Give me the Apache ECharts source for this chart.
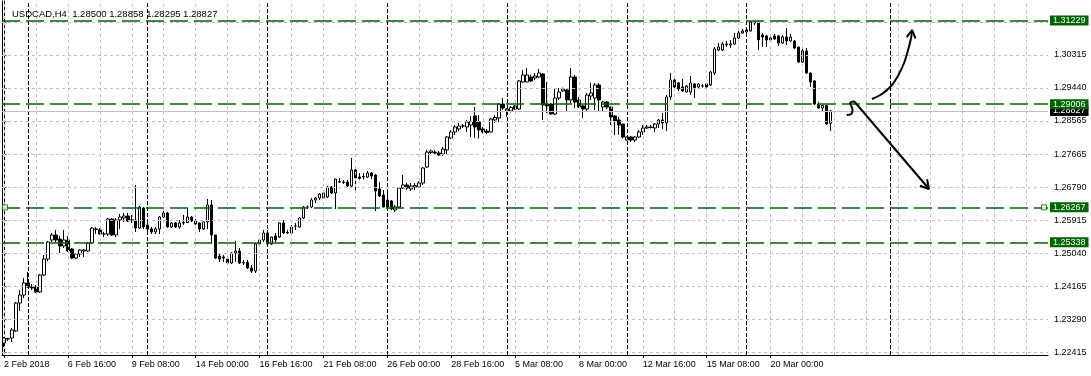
<!DOCTYPE html>
<html><head><meta charset="utf-8">
<script src="https://cdn.jsdelivr.net/npm/echarts@6/dist/echarts.min.js"></script>
<style>html,body{margin:0;padding:0;background:#fff}#c{width:1091px;height:376px}</style>
</head><body><div id="c"></div>
<script>
const openP = [1.22663,1.22769,1.22795,1.22981,1.23725,1.23938,1.24257,1.24150,1.24150,1.24018,1.24469,1.24894,1.25399,1.25532,1.25426,1.25240,1.25399,1.25160,1.24921,1.25027,
1.25107,1.25107,1.25320,1.25692,1.25665,1.25559,1.25559,1.25957,1.25532,1.25931,1.25984,1.26037,1.25931,1.25931,1.25718,1.26249,1.25798,1.25692,1.25612,1.25692,
1.26010,1.26117,1.25745,1.25851,1.25745,1.25851,1.25864,1.26010,1.25904,1.25851,1.25692,1.25878,1.26329,1.25532,1.24974,1.24948,1.24894,1.24788,1.25054,1.25107,
1.24788,1.24802,1.24655,1.24576,1.25293,1.25399,1.25585,1.25293,1.25506,1.25479,1.25851,1.25585,1.25585,1.25771,1.25745,1.25984,1.26276,1.26276,1.26462,1.26515,
1.26515,1.26542,1.26807,1.26648,1.26940,1.26940,1.26940,1.26834,1.27259,1.27073,1.27073,1.27073,1.27179,1.27126,1.26754,1.26595,1.26462,1.26435,1.26196,1.26276,
1.26781,1.26861,1.26754,1.26807,1.26807,1.26914,1.27339,1.27724,1.27737,1.27711,1.27684,1.27791,1.28109,1.28269,1.28349,1.28428,1.28402,1.28455,1.28694,1.28535,
1.28349,1.28295,1.28269,1.28588,1.28641,1.29013,1.28827,1.28827,1.28960,1.28880,1.29597,1.29597,1.29730,1.29704,1.29730,1.29810,1.29013,1.29013,1.28747,1.29172,
1.29358,1.29385,1.29119,1.29730,1.29119,1.28960,1.28880,1.29225,1.29172,1.29518,1.28933,1.29066,1.28933,1.28694,1.28588,1.28481,1.28056,1.28136,1.28056,1.28136,
1.28269,1.28375,1.28402,1.28375,1.28481,1.28588,1.28508,1.29199,1.29650,1.29571,1.29464,1.29332,1.29332,1.29544,1.29464,1.29491,1.29544,1.29518,1.29836,1.30448,
1.30448,1.30607,1.30580,1.30607,1.30766,1.30899,1.30926,1.30952,1.31165,1.31165,1.30846,1.30820,1.30713,1.30820,1.30820,1.30634,1.30793,1.30687,1.30687,1.30527,
1.30129,1.30421,1.29836,1.29624,1.29013,1.28906,1.28973,1.28500];
const closeP = [1.22795,1.22782,1.23008,1.23725,1.23938,1.24257,1.24150,1.24124,1.24018,1.24469,1.24894,1.25346,1.25532,1.25399,1.25240,1.25399,1.25107,1.24921,1.25027,1.25134,
1.25134,1.25320,1.25718,1.25678,1.25559,1.25559,1.25957,1.25532,1.25931,1.26010,1.26037,1.25904,1.25931,1.25718,1.26276,1.25745,1.25692,1.25612,1.25692,1.26010,
1.26117,1.25745,1.25851,1.25745,1.25851,1.25864,1.26010,1.25904,1.25824,1.25692,1.25878,1.26329,1.25532,1.24921,1.24894,1.24921,1.24788,1.25054,1.25107,1.24788,
1.24802,1.24655,1.24576,1.25293,1.25399,1.25585,1.25293,1.25479,1.25399,1.25851,1.25585,1.25599,1.25745,1.25771,1.25984,1.26276,1.26276,1.26462,1.26515,1.26621,
1.26648,1.26807,1.26648,1.27020,1.26953,1.26927,1.26834,1.27259,1.27047,1.27033,1.27086,1.27179,1.27100,1.26701,1.26568,1.26276,1.26276,1.26223,1.26276,1.26781,
1.26861,1.26781,1.26834,1.26847,1.26914,1.27312,1.27737,1.27764,1.27711,1.27658,1.27817,1.28136,1.28269,1.28402,1.28428,1.28428,1.28535,1.28548,1.28402,1.28322,
1.28269,1.28256,1.28614,1.28654,1.29013,1.28906,1.28880,1.28920,1.28880,1.29624,1.29783,1.29783,1.29624,1.29757,1.29836,1.28986,1.28960,1.28747,1.29172,1.29332,
1.29411,1.29119,1.29730,1.29066,1.28933,1.28880,1.29252,1.29305,1.29518,1.29119,1.29066,1.28933,1.28667,1.28561,1.28455,1.28136,1.28136,1.28056,1.28136,1.28269,
1.28375,1.28402,1.28389,1.28481,1.28588,1.28508,1.29199,1.29650,1.29464,1.29411,1.29358,1.29491,1.29571,1.29438,1.29544,1.29491,1.29464,1.29863,1.30474,1.30527,
1.30607,1.30594,1.30607,1.30766,1.30899,1.30952,1.30979,1.31192,1.31192,1.30713,1.30793,1.30713,1.30766,1.30740,1.30634,1.30793,1.30687,1.30793,1.30501,1.30129,
1.30421,1.29836,1.29597,1.29013,1.28906,1.28973,1.28481,1.28827];
const lowP = [1.22556,1.22716,1.22689,1.22955,1.23513,1.23858,1.24124,1.24071,1.23991,1.23991,1.24443,1.24841,1.25346,1.25346,1.25054,1.25187,1.25080,1.24894,1.24894,1.24948,
1.24948,1.25080,1.25293,1.25559,1.25545,1.25479,1.25506,1.25506,1.25479,1.25692,1.25878,1.25878,1.25851,1.25612,1.25692,1.25692,1.25612,1.25559,1.25559,1.25559,
1.25984,1.25731,1.25718,1.25718,1.25692,1.25798,1.25851,1.25878,1.25798,1.25612,1.25665,1.25692,1.25293,1.24894,1.24815,1.24815,1.24735,1.24762,1.24815,1.24762,
1.24735,1.24629,1.24522,1.24522,1.25213,1.25346,1.25266,1.25266,1.25346,1.25452,1.25559,1.25559,1.25559,1.25665,1.25731,1.25957,1.26223,1.26249,1.26382,1.26462,
1.26502,1.26515,1.26621,1.26223,1.26914,1.26887,1.26807,1.26781,1.26728,1.27007,1.27007,1.27047,1.27020,1.26170,1.26542,1.26263,1.26249,1.26196,1.26143,1.26249,
1.26754,1.26728,1.26701,1.26728,1.26781,1.26861,1.27312,1.27684,1.27684,1.27631,1.27631,1.27658,1.28083,1.28189,1.28295,1.28375,1.28269,1.28136,1.28109,1.28096,
1.28229,1.28216,1.28256,1.28508,1.28535,1.28853,1.28667,1.28787,1.28853,1.28853,1.29584,1.29584,1.29597,1.29650,1.29704,1.28588,1.28774,1.28720,1.28720,1.29119,
1.29332,1.28800,1.29039,1.28906,1.28906,1.28641,1.28800,1.29119,1.28853,1.28827,1.28827,1.28880,1.28455,1.28189,1.28189,1.28096,1.28030,1.28003,1.28003,1.28109,
1.28189,1.28349,1.28362,1.28269,1.28375,1.28349,1.28295,1.29119,1.29438,1.29358,1.29332,1.29319,1.29252,1.29172,1.29438,1.29451,1.29451,1.29491,1.29783,1.30421,
1.30421,1.30527,1.30501,1.30580,1.30740,1.30873,1.30899,1.30939,1.31112,1.30448,1.30527,1.30527,1.30660,1.30713,1.30554,1.30607,1.30580,1.30660,1.30474,1.30102,
1.30102,1.29810,1.29464,1.28986,1.28880,1.28800,1.28455,1.28295];
const highP = [1.22822,1.22803,1.23061,1.23752,1.24071,1.24390,1.24549,1.24230,1.24204,1.24496,1.25001,1.25373,1.25585,1.25665,1.25506,1.25665,1.25506,1.25187,1.25054,1.25160,
1.25160,1.25346,1.25745,1.25745,1.25718,1.25612,1.25984,1.25984,1.25984,1.26090,1.26117,1.26117,1.26063,1.26861,1.26303,1.26276,1.25878,1.25745,1.25745,1.26037,
1.26249,1.26143,1.25878,1.25878,1.25931,1.26063,1.26249,1.26037,1.25957,1.25864,1.25891,1.26489,1.26462,1.25532,1.25027,1.25001,1.24948,1.25080,1.25373,1.25187,
1.24868,1.24868,1.24735,1.25320,1.25452,1.25665,1.25665,1.25492,1.25585,1.25864,1.25931,1.25665,1.25798,1.25851,1.26010,1.26303,1.26316,1.26515,1.26542,1.26648,
1.26675,1.26834,1.26834,1.27033,1.27047,1.26993,1.26993,1.27578,1.27339,1.27179,1.27179,1.27233,1.27206,1.27153,1.26940,1.26728,1.26648,1.26462,1.26329,1.26807,
1.27126,1.26914,1.26914,1.26914,1.26967,1.27339,1.27791,1.27804,1.27791,1.27764,1.27870,1.28163,1.28322,1.28455,1.28508,1.28481,1.28588,1.28694,1.28933,1.28720,
1.28402,1.28349,1.28641,1.28720,1.29039,1.29172,1.28906,1.28960,1.28986,1.29650,1.29916,1.29969,1.29783,1.29836,1.29943,1.29836,1.29597,1.29039,1.29438,1.29438,
1.29451,1.29438,1.29969,1.29783,1.29199,1.28986,1.29305,1.29571,1.29571,1.29571,1.29092,1.29092,1.28947,1.28720,1.28667,1.28481,1.28149,1.28163,1.28163,1.28322,
1.28455,1.28455,1.28455,1.28508,1.28614,1.28774,1.29252,1.29836,1.29677,1.29597,1.29677,1.29518,1.29757,1.29571,1.29571,1.29544,1.29597,1.29890,1.30527,1.30634,
1.30660,1.30687,1.30713,1.30899,1.31006,1.31006,1.31032,1.31205,1.31218,1.31205,1.30899,1.30846,1.30820,1.30873,1.30846,1.30846,1.31032,1.30873,1.30713,1.30527,
1.30501,1.30501,1.29850,1.29650,1.29066,1.28986,1.28986,1.28858];

const xTickBars = [0,16,32,48,64,80,96,112,128,144,160,176,192];
const xTickLabels = ['2 Feb 2018','6 Feb 16:00','9 Feb 08:00','14 Feb 00:00','16 Feb 16:00','21 Feb 08:00','26 Feb 00:00','28 Feb 16:00','5 Mar 08:00','8 Mar 00:00','12 Mar 16:00','15 Mar 08:00','20 Mar 00:00'];
const yTickValues = [1.22415,1.23290,1.24165,1.25040,1.25915,1.26790,1.27665,1.28565,1.29440,1.30315,1.31190];
const levelValues = [1.31229,1.29006,1.26267,1.25338];
const lastPrice = 1.28827;
const selectedLevel = 1.26267;
const separatorBars = [6,36,66,96,126,156,186,222];
const gridStepBars = 8;
const titleText = 'USDCAD,H4  1.28500 1.28858 1.28295 1.28827';
const arrowUp = [[217.4,1.29146],[219.9,1.29278],[222.2,1.29491],[223.9,1.29757],[225.45,1.30102],[226.45,1.30448],[227.2,1.30766],[227.45,1.30979]];
const arrowUpHead = [[226.1,1.30788],[227.45,1.30979],[228.3,1.30758]];
const squiggle = [[211.1,1.28720],[212.2,1.28747],[212.55,1.28853],[212.2,1.28960],[211.9,1.29026],[212.8,1.29079],[213.2,1.29053]];
const arrowDown = [[213.2,1.29053],[231.7,1.26754]];
const arrowDownHead = [[229.4,1.26842],[231.7,1.26754],[231.2,1.27015]];
const handleBars = [0.25,260.5];

const N = 262;
const categories = [];
for (let i = 0; i < N; i++) categories.push(String(i));
const labelAt = {};
xTickBars.forEach((b, k) => { labelAt[b] = xTickLabels[k]; });
const candles = openP.map((o, i) => [o, closeP[i], lowP[i], highP[i]]);
const gridBars = [];
for (let b = 0; b < N; b += gridStepBars) gridBars.push(b);

const FONT = 'Liberation Sans, Arial, sans-serif';
const GREEN = '#006400';
const YMIN = 1.22344, YMAX = 1.31749;
const tagLabel = (bg) => ({show: true, position: 'end', distance: 2, formatter: (p) => Number(p.value).toFixed(5),
  backgroundColor: bg, color: '#fff', padding: [1, 3, 0, 3], lineHeight: 9, fontSize: 9, fontFamily: FONT});

const chart = echarts.init(document.getElementById('c'), null, {renderer: 'canvas'});
chart.setOption({
  animation: false,
  backgroundColor: '#fff',
  title: {text: titleText, left: 7, top: 4, textStyle: {fontSize: 9.5, fontWeight: 'normal', color: '#000', fontFamily: FONT}},
  grid: {left: 2, right: 43, top: 1, bottom: 21, containLabel: false},
  xAxis: [{
    type: 'category', data: categories, boundaryGap: true,
    axisLine: {show: true, lineStyle: {color: '#000', width: 1}},
    axisTick: {show: true, alignWithLabel: true, length: 3, interval: (i) => labelAt[i] !== undefined, lineStyle: {color: '#000'}},
    axisLabel: {show: true, interval: (i) => labelAt[i] !== undefined, formatter: (v, i) => labelAt[i] || '', align: 'left', margin: 5, fontSize: 9, color: '#000', fontFamily: FONT},
    splitLine: {show: false}
  }, {
    type: 'value', min: -0.5, max: N - 0.5, show: false
  }],
  yAxis: [{
    type: 'value', position: 'right', min: YMIN, max: YMAX,
    axisLine: {show: true, lineStyle: {color: '#000', width: 1}},
    axisTick: {show: true, customValues: yTickValues, length: 3, lineStyle: {color: '#808080'}},
    axisLabel: {show: true, customValues: yTickValues, formatter: (v) => v.toFixed(5), margin: 6, fontSize: 9, color: '#000', fontFamily: FONT},
    splitLine: {show: false}
  }, {
    type: 'value', position: 'left', min: YMIN, max: YMAX,
    axisLine: {show: true, lineStyle: {color: '#000', width: 1}},
    axisTick: {show: false}, axisLabel: {show: false}, splitLine: {show: false}
  }],
  series: [
    {
      type: 'line', xAxisIndex: 1, yAxisIndex: 0, data: [], z: 1, silent: true,
      markLine: {
        silent: true, symbol: 'none', animation: false, precision: 5,
        label: {show: false},
        lineStyle: {color: '#c0c0c0', type: [3, 3], width: 1},
        data: gridBars.map(b => ({xAxis: b})).concat(yTickValues.map(v => ({yAxis: v})))
      }
    },
    {
      type: 'line', xAxisIndex: 1, yAxisIndex: 0, data: [], z: 2, silent: true,
      markLine: {
        silent: true, symbol: 'none', animation: false, precision: 5,
        label: {show: false},
        lineStyle: {color: '#000', type: [4, 2], width: 1},
        data: separatorBars.map(b => ({xAxis: b}))
      }
    },
    {
      type: 'candlestick', xAxisIndex: 0, yAxisIndex: 0, data: candles, z: 3,
      barWidth: 3,
      itemStyle: {color: '#fff', color0: '#000', borderColor: '#000', borderColor0: '#000', borderWidth: 1}
    },
    {
      type: 'line', xAxisIndex: 1, yAxisIndex: 0, data: [], z: 4, silent: true,
      markLine: {
        silent: true, symbol: 'none', animation: false, precision: 5,
        data: [
          {yAxis: lastPrice, lineStyle: {color: '#c0c0c0', type: 'solid', width: 1}, label: tagLabel('#000')}
        ].concat(levelValues.map(v => ({
          yAxis: v, lineStyle: {color: GREEN, type: [18, 6], width: 1.5}, label: tagLabel(GREEN)
        })))
      }
    },
    {
      type: 'scatter', xAxisIndex: 1, yAxisIndex: 0, z: 5, silent: true,
      data: handleBars.map(b => [b, selectedLevel]), symbol: 'rect', symbolSize: 5,
      itemStyle: {color: '#fff', borderColor: GREEN, borderWidth: 1}
    },
    {type: 'line', xAxisIndex: 1, data: arrowUp, smooth: 0.4, symbol: 'none', silent: true, z: 6, lineStyle: {color: '#000', width: 2}},
    {type: 'line', xAxisIndex: 1, data: arrowUpHead, symbol: 'none', silent: true, z: 6, lineStyle: {color: '#000', width: 2}},
    {type: 'line', xAxisIndex: 1, data: squiggle, smooth: 0.4, symbol: 'none', silent: true, z: 6, lineStyle: {color: '#000', width: 2}},
    {type: 'line', xAxisIndex: 1, data: arrowDown, symbol: 'none', silent: true, z: 6, lineStyle: {color: '#000', width: 2}},
    {type: 'line', xAxisIndex: 1, data: arrowDownHead, symbol: 'none', silent: true, z: 6, lineStyle: {color: '#000', width: 2}}
  ]
});
</script></body></html>
